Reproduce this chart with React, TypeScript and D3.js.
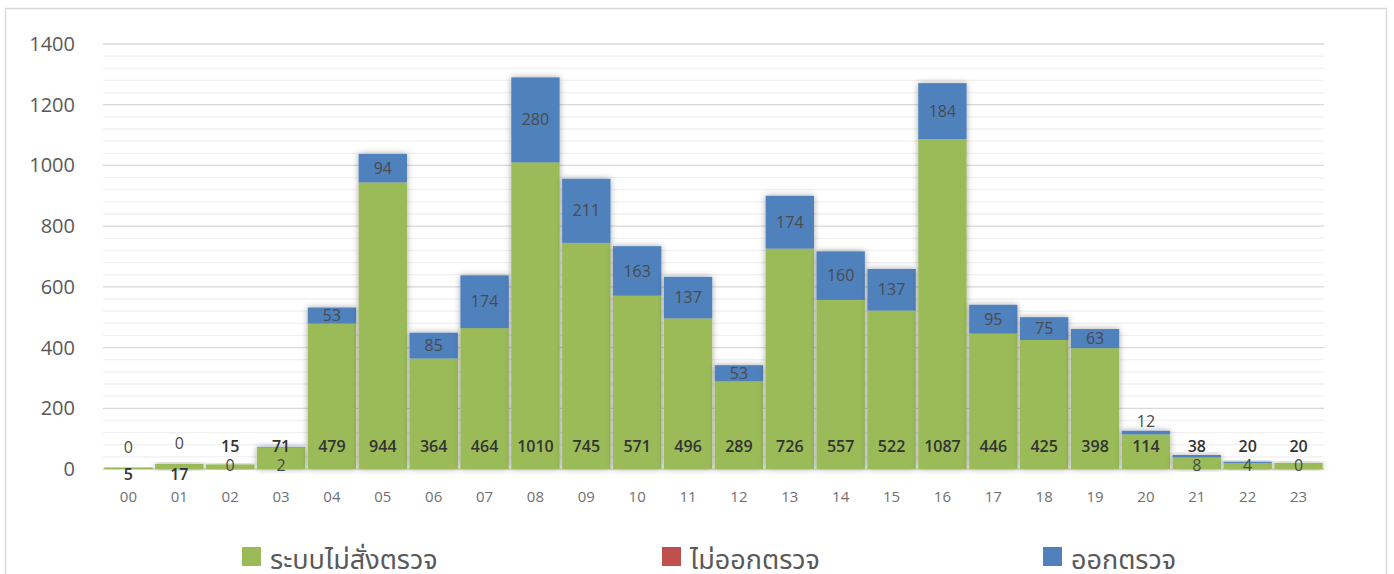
import * as d3 from "d3";

// hours of the day
const HOURS = [
  "00", "01", "02", "03", "04", "05", "06", "07", "08", "09", "10", "11",
  "12", "13", "14", "15", "16", "17", "18", "19", "20", "21", "22", "23",
];

// series values
const NO_ORDER = [5, 17, 15, 71, 479, 944, 364, 464, 1010, 745, 571, 496, 289, 726, 557, 522, 1087, 446, 425, 398, 114, 38, 20, 20];
const NOT_SENT = [0, 0, 0, 0, 0, 0, 0, 0, 0, 0, 0, 0, 0, 0, 0, 0, 0, 0, 0, 0, 0, 0, 0, 0];
const SENT = [0, 0, 0, 2, 53, 94, 85, 174, 280, 211, 163, 137, 53, 174, 160, 137, 184, 95, 75, 63, 12, 8, 4, 0];

const Y_TICKS = [0, 200, 400, 600, 800, 1000, 1200, 1400];

const SERIES = [
  { key: "noOrder", name: "ระบบไม่สั่งตรวจ", color: "#9BBB59" },
  { key: "notSent", name: "ไม่ออกตรวจ", color: "#C0504D" },
  { key: "sent", name: "ออกตรวจ", color: "#4F81BD" },
];

const W = 1394;
const H = 574;
const PLOT = { left: 103, right: 1324, top: 44, bottom: 469 };
const FONT = "'Segoe UI', 'Open Sans', 'DejaVu Sans', sans-serif";
const THAI_FONT = "'Noto Sans Thai', 'Noto Sans Thai Looped', Tahoma, 'Noto Sans', sans-serif";

type Row = { hour: string; noOrder: number; notSent: number; sent: number };

const rows: Row[] = HOURS.map((h, i) => ({
  hour: h,
  noOrder: NO_ORDER[i],
  notSent: NOT_SENT[i],
  sent: SENT[i],
}));

export default function App() {
  const x = d3
    .scaleBand<string>()
    .domain(HOURS)
    .range([PLOT.left, PLOT.right])
    .paddingInner(0.05)
    .paddingOuter(0.025);

  const y = d3.scaleLinear().domain([0, 1400]).range([PLOT.bottom, PLOT.top]);

  const stacked = d3
    .stack<Row>()
    .keys(SERIES.map((s) => s.key))(rows);

  const minorTicks = d3.range(0, 1401, 40).filter((v) => v % 200 !== 0);

  return (
    <svg
      width={W}
      height={H}
      style={{ position: "absolute", left: 0, top: 0, background: "#fff" }}
    >
      <defs>
        <filter id="barShadow" x="-20%" y="-20%" width="140%" height="140%">
          <feDropShadow dx="0" dy="0" stdDeviation="3" floodColor="#000" floodOpacity="0.35" />
        </filter>
      </defs>

      {/* chart frame */}
      <rect x={5.5} y={8.5} width={1381} height={600} fill="none" stroke="#d9d9d9" strokeWidth={1.5} />

      {/* gridlines */}
      {minorTicks.map((v) => (
        <line key={"m" + v} x1={PLOT.left} x2={PLOT.right} y1={y(v)} y2={y(v)} stroke="#f0f0f0" strokeWidth={1.3} />
      ))}
      {Y_TICKS.map((v) => (
        <line key={"g" + v} x1={PLOT.left} x2={PLOT.right} y1={y(v)} y2={y(v)} stroke="#d9d9d9" strokeWidth={1.3} />
      ))}

      {/* y tick labels */}
      {Y_TICKS.map((v) => (
        <text
          key={"yt" + v}
          x={75}
          y={y(v)}
          dy="0.35em"
          textAnchor="end"
          fontFamily={FONT}
          fontSize={20}
          fill="#595959"
        >
          {v}
        </text>
      ))}

      {/* stacked bars */}
      {rows.map((r, i) => (
        <g key={"bar" + r.hour} filter="url(#barShadow)">
          {stacked.map((layer, si) => {
            const [y0, y1] = layer[i];
            const h = y(y0) - y(y1);
            if (h <= 0) return null;
            return (
              <rect
                key={layer.key}
                x={x(r.hour)!}
                y={y(y1)}
                width={x.bandwidth()}
                height={h}
                fill={SERIES[si].color}
              />
            );
          })}
        </g>
      ))}

      {/* data labels */}
      {rows.map((r) => {
        const cx = x(r.hour)! + x.bandwidth() / 2;
        const total = r.noOrder + r.notSent + r.sent;
        const tiny = r.noOrder <= 17 && r.sent === 0 && r.noOrder !== 15;
        const greenY = tiny ? y(0) + 5 : y(0) - 23;
        const segPx = y(r.noOrder) - y(total);
        let blueY: number;
        if (tiny) blueY = y(total) - 20;
        else if (segPx >= 16) blueY = (y(r.noOrder) + y(total)) / 2;
        else if (total >= 100) blueY = y(total) - 9;
        else blueY = y(0) - 4;
        return (
          <g key={"lbl" + r.hour} fontFamily={FONT} fontSize={16} textAnchor="middle">
            <text x={cx} y={greenY} dy="0.35em" fill="#333" fontWeight={600}>
              {r.noOrder}
            </text>
            <text x={cx} y={blueY} dy="0.35em" fill="#4a4a4a">
              {r.sent}
            </text>
          </g>
        );
      })}

      {/* x tick labels */}
      {HOURS.map((h) => (
        <text
          key={"xt" + h}
          x={x(h)! + x.bandwidth() / 2}
          y={497}
          dy="0.35em"
          textAnchor="middle"
          fontFamily={FONT}
          fontSize={15}
          fill="#707070"
        >
          {h}
        </text>
      ))}

      {/* legend */}
      {SERIES.map((s, i) => {
        const lx = [242, 662, 1043][i];
        return (
          <g key={"leg" + s.key}>
            <rect x={lx} y={547} width={19} height={19} fill={s.color} />
            <text x={lx + 28} y={569} fontFamily={THAI_FONT} fontSize={27} fill="#595959">
              {s.name}
            </text>
          </g>
        );
      })}
    </svg>
  );
}
